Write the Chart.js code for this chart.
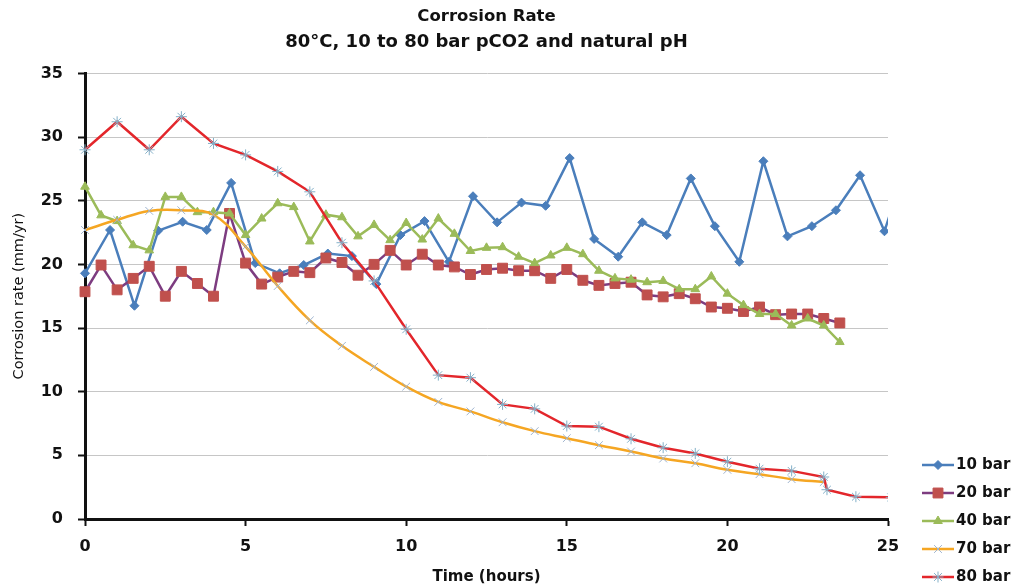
<!DOCTYPE html>
<html>
<head>
<meta charset="utf-8">
<script src="https://cdn.jsdelivr.net/npm/chart.js@4/dist/chart.umd.min.js"></script>
<style>
  html, body { margin: 0; padding: 0; background: #fff; }
  #wrap { width: 1016px; height: 587px; }
</style>
</head>
<body>
<div id="wrap"><canvas id="c" width="1016" height="587"></canvas></div>
<script>
// Corrosion rate vs. exposure time, 80 °C, several CO2 partial pressures
const TITLE = 'Corrosion Rate';
const SUBTITLE = '80°C, 10 to 80 bar pCO2 and natural pH';
const X_TITLE = 'Time (hours)';
const Y_TITLE = 'Corrosion rate (mm/yr)';
const SERIES_NAMES = ['10 bar', '20 bar', '40 bar', '70 bar', '80 bar'];
const X_TICKS = [0, 5, 10, 15, 20, 25];
const Y_TICKS = [0, 5, 10, 15, 20, 25, 30, 35];

// 10 bar: sampled roughly every 45 minutes
const hours10 = [0, 0.78, 1.54, 2.28, 3.04, 3.79, 4.55, 5.3, 6.06, 6.81, 7.56, 8.31, 9.07, 9.82,
  10.57, 11.33, 12.08, 12.83, 13.59, 14.34, 15.09, 15.85, 16.6, 17.35, 18.11, 18.86, 19.61,
  20.37, 21.12, 21.87, 22.63, 23.38, 24.13, 24.89, 25.64];
const rate10 = [19.3, 22.7, 16.75, 22.65, 23.35, 22.7, 26.4, 20.1, 19.3, 19.95, 20.85, 20.65, 18.45, 22.3,
  23.4, 20.2, 25.35, 23.3, 24.85, 24.6, 28.35, 22.0, 20.6, 23.3, 22.3, 26.75, 23.0,
  20.2, 28.1, 22.2, 23.0, 24.25, 27.0, 22.6, 28.5];

// 20 bar and 40 bar: half-hourly readings
const hoursHalf = [0, 0.5, 1, 1.5, 2, 2.5, 3, 3.5, 4, 4.5, 5, 5.5, 6, 6.5, 7, 7.5, 8, 8.5, 9, 9.5,
  10, 10.5, 11, 11.5, 12, 12.5, 13, 13.5, 14, 14.5, 15, 15.5, 16, 16.5, 17, 17.5, 18, 18.5, 19, 19.5,
  20, 20.5, 21, 21.5, 22, 22.5, 23, 23.5];
const rate20 = [17.85, 19.95, 18.0, 18.9, 19.85, 17.5, 19.45, 18.5, 17.5, 24.0, 20.1, 18.45, 19.0, 19.45,
  19.35, 20.5, 20.15, 19.15, 20.0, 21.1, 19.95, 20.8, 19.95, 19.8, 19.2, 19.6, 19.7, 19.5, 19.5, 18.9,
  19.6, 18.75, 18.35, 18.5, 18.6, 17.6, 17.45, 17.7, 17.3, 16.65, 16.55, 16.3, 16.65, 16.05, 16.1, 16.1,
  15.75, 15.4];
const rate40 = [26.1, 23.85, 23.4, 21.5, 21.1, 25.3, 25.3, 24.1, 24.1, 24.0, 22.3, 23.6, 24.8, 24.5,
  21.8, 23.9, 23.7, 22.2, 23.1, 21.9, 23.25, 21.95, 23.6, 22.4, 21.05, 21.3, 21.35, 20.6, 20.1, 20.7,
  21.3, 20.8, 19.5, 18.9, 18.8, 18.6, 18.7, 18.05, 18.05, 19.05, 17.7, 16.8, 16.1, 16.1, 15.2, 15.75,
  15.2, 13.9];

// 70 bar and 80 bar: hourly readings
const hours70 = [0, 1, 2, 3, 4, 5, 6, 7, 8, 9, 10, 11, 12, 13, 14, 15, 16, 17, 18, 19, 20, 21, 22, 23];
const rate70 = [22.7, 23.5, 24.2, 24.25, 23.9, 21.4, 18.3, 15.6, 13.6, 11.95, 10.4, 9.2, 8.45, 7.6,
  6.9, 6.35, 5.8, 5.3, 4.75, 4.38, 3.86, 3.52, 3.13, 2.9];
const hours80 = [0, 1, 2, 3, 4, 5, 6, 7, 8, 9, 10, 11, 12, 13, 14, 15, 16, 17, 18, 19, 20, 21, 22, 23,
  23.1, 24, 25.1];
const rate80 = [29.0, 31.2, 29.0, 31.6, 29.5, 28.6, 27.3, 25.7, 21.7, 18.7, 14.9, 11.3, 11.1, 9.0,
  8.65, 7.3, 7.25, 6.3, 5.6, 5.15, 4.5, 3.95, 3.78, 3.3, 2.3, 1.75, 1.7];

const FONT = 'DejaVu Sans';
const pairs = (xs, ys) => xs.map((x, i) => ({ x: x, y: ys[i] }));

// key drawn at the lower right: line sample with marker, then the series name
const seriesKey = {
  id: 'seriesKey',
  afterDraw(chart) {
    const ctx = chart.ctx;
    chart.data.datasets.forEach((ds, i) => {
      const y = 465 + i * 28;
      ctx.save();
      ctx.strokeStyle = ds.borderColor;
      ctx.lineWidth = ds.borderWidth;
      ctx.beginPath();
      ctx.moveTo(922, y);
      ctx.lineTo(954, y);
      ctx.stroke();
      ctx.fillStyle = ds.pointBackgroundColor;
      ctx.strokeStyle = ds.pointBorderColor;
      ctx.lineWidth = ds.pointBorderWidth;
      Chart.helpers.drawPoint(ctx, {
        pointStyle: ds.pointStyle, radius: ds.pointRadius,
        borderWidth: ds.pointBorderWidth, rotation: 0
      }, 938, y);
      ctx.fillStyle = '#111';
      ctx.font = 'bold 15px "' + FONT + '"';
      ctx.textAlign = 'left';
      ctx.textBaseline = 'middle';
      ctx.fillText(ds.label, 956, y);
      ctx.restore();
    });
  }
};

const clipArea = { left: 12, right: 0, top: 12, bottom: 12 };

new Chart(document.getElementById('c'), {
  type: 'line',
  data: {
    datasets: [
      {
        label: SERIES_NAMES[0], data: pairs(hours10, rate10), order: 5,
        borderColor: '#4a7ebb', borderWidth: 2.5, tension: 0,
        pointStyle: 'rectRot', pointRadius: 4.5, pointBackgroundColor: '#4a7ebb',
        pointBorderColor: '#4a7ebb', pointBorderWidth: 1, clip: clipArea
      },
      {
        label: SERIES_NAMES[1], data: pairs(hoursHalf, rate20), order: 4,
        borderColor: '#7d3c80', borderWidth: 2.5, tension: 0,
        pointStyle: 'rect', pointRadius: 7, pointBackgroundColor: '#c0504d',
        pointBorderColor: '#c0504d', pointBorderWidth: 1, clip: clipArea
      },
      {
        label: SERIES_NAMES[2], data: pairs(hoursHalf, rate40), order: 3,
        borderColor: '#9bbb59', borderWidth: 2.5, tension: 0,
        pointStyle: 'triangle', pointRadius: 5, pointBackgroundColor: '#9bbb59',
        pointBorderColor: '#9bbb59', pointBorderWidth: 1, clip: clipArea
      },
      {
        label: SERIES_NAMES[3], data: pairs(hours70, rate70), order: 2,
        borderColor: '#f5a623', borderWidth: 2.5, tension: 0.4,
        pointStyle: 'crossRot', pointRadius: 5.5, pointBackgroundColor: '#9fb4cf',
        pointBorderColor: '#9fb4cf', pointBorderWidth: 1, clip: clipArea
      },
      {
        label: SERIES_NAMES[4], data: pairs(hours80, rate80), order: 1,
        borderColor: '#e3262b', borderWidth: 2.5, tension: 0,
        pointStyle: 'star', pointRadius: 5.5, pointBackgroundColor: '#83b0c8',
        pointBorderColor: '#83b0c8', pointBorderWidth: 1, clip: clipArea
      }
    ]
  },
  options: {
    responsive: false,
    animation: false,
    devicePixelRatio: 1,
    layout: { padding: { left: 0, right: 128, top: 0, bottom: 0 } },
    plugins: {
      legend: { display: false },
      tooltip: { enabled: false },
      title: {
        display: true, text: TITLE, fullSize: false, color: '#111',
        font: { family: FONT, size: 16.5, weight: 'bold' },
        padding: { top: 7, bottom: 0 }
      },
      subtitle: {
        display: true, text: SUBTITLE, fullSize: false, color: '#111',
        font: { family: FONT, size: 18, weight: 'bold' },
        padding: { top: 5, bottom: 20 }
      }
    },
    scales: {
      x: {
        type: 'linear', min: 0, max: 25,
        afterFit(scale) { scale.height = 68; },
        afterBuildTicks(scale) { scale.ticks = X_TICKS.map(v => ({ value: v })); },
        ticks: { color: '#111', font: { family: FONT, size: 16, weight: 'bold' }, padding: 11 },
        grid: { drawOnChartArea: false, drawTicks: true, tickLength: 7, tickColor: '#111', tickWidth: 2 },
        border: { color: '#111', width: 3 },
        title: {
          display: true, text: X_TITLE, color: '#111',
          font: { family: FONT, size: 15, weight: 'bold' }, padding: { top: 0, bottom: 1 }
        }
      },
      y: {
        type: 'linear', min: 0, max: 35,
        afterFit(scale) { scale.width = 85; },
        afterBuildTicks(scale) { scale.ticks = Y_TICKS.map(v => ({ value: v })); },
        ticks: { color: '#111', font: { family: FONT, size: 16, weight: 'bold' }, padding: 15 },
        grid: { color: '#c6c6c6', lineWidth: 1, drawTicks: true, tickLength: 7, tickColor: '#111', tickWidth: 2 },
        border: { color: '#111', width: 3 },
        title: {
          display: true, text: Y_TITLE, color: '#111',
          font: { family: FONT, size: 14.5 }, padding: { top: 11, bottom: 0 }
        }
      }
    }
  },
  plugins: [seriesKey]
});
</script>
</body>
</html>
